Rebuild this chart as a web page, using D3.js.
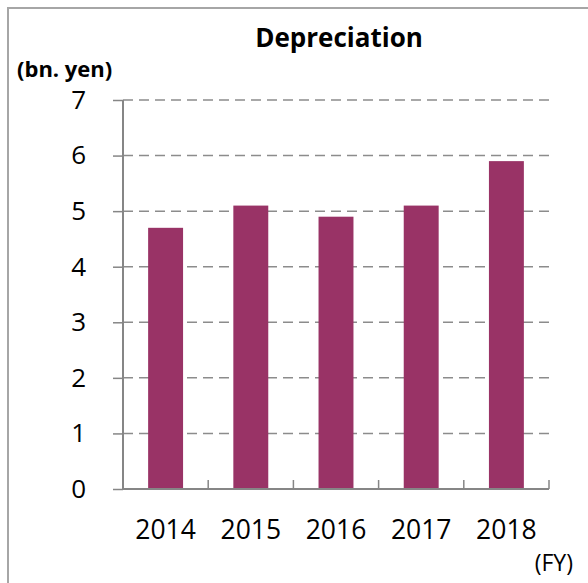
<!DOCTYPE html>
<html>
<head>
<meta charset="utf-8">
<script src="https://cdn.jsdelivr.net/npm/d3@7"></script>
<style>
  html, body { margin: 0; padding: 0; background: #fff; }
  svg { display: block; }
  text { font-family: "Open Sans", "Noto Sans", sans-serif; fill: #000; }
</style>
</head>
<body>
<svg id="chart" width="588" height="583"></svg>
<script>
const years = ["2014", "2015", "2016", "2017", "2018"];
const depreciation = [4.7, 5.1, 4.9, 5.1, 5.9];
const yTicks = [0, 1, 2, 3, 4, 5, 6, 7];
const titleText = "Depreciation";
const unitText = "(bn. yen)";
const fyText = "(FY)";

const svg = d3.select("#chart");
const plot = { left: 123, right: 549, top: 100, bottom: 489 };

// outer frame (extends past the viewport on right and bottom)
svg.append("rect")
  .attr("x", 8).attr("y", 8)
  .attr("width", 600).attr("height", 600)
  .attr("fill", "none")
  .attr("stroke", "#a6a6a6")
  .attr("stroke-width", 2);

const x = d3.scaleBand()
  .domain(years)
  .range([plot.left, plot.right])
  .paddingInner(0.59)
  .paddingOuter(0.295);

const y = d3.scaleLinear()
  .domain([0, 7])
  .range([plot.bottom, plot.top]);

// gridlines
svg.append("g")
  .selectAll("line")
  .data(yTicks.filter(d => d > 0))
  .join("line")
  .attr("x1", plot.left).attr("x2", plot.right)
  .attr("y1", d => y(d)).attr("y2", d => y(d))
  .attr("stroke", "#8c8c8c")
  .attr("stroke-width", 1.5)
  .attr("stroke-dasharray", "10,6");

// bars
svg.append("g")
  .selectAll("rect")
  .data(years.map((yr, i) => ({ yr, v: depreciation[i] })))
  .join("rect")
  .attr("x", d => x(d.yr))
  .attr("width", x.bandwidth())
  .attr("y", d => y(d.v))
  .attr("height", d => y(0) - y(d.v))
  .attr("fill", "#993366");

// y axis
const yAxis = d3.axisLeft(y).tickValues(yTicks).tickSize(10).tickPadding(27)
  .tickFormat(d3.format("d"));
const gy = svg.append("g")
  .attr("transform", `translate(${plot.left},0)`)
  .call(yAxis);
gy.select(".domain").attr("stroke", "#868686").attr("stroke-width", 2)
  .attr("d", `M0,${plot.top}V${plot.bottom}`);
gy.selectAll(".tick line").attr("stroke", "#868686").attr("stroke-width", 1.5);
gy.selectAll(".tick text")
  .attr("font-family", "Open Sans, sans-serif")
  .attr("font-size", 26)
  .attr("fill", "#000");

// x axis
const gx = svg.append("g")
  .attr("transform", `translate(0,${plot.bottom})`);
gx.append("line")
  .attr("x1", plot.left).attr("x2", plot.right)
  .attr("y1", 0).attr("y2", 0)
  .attr("stroke", "#868686").attr("stroke-width", 2);
const boundaries = years.map(d => x(d) - x.step() * x.paddingInner() / 2 + x.step());
gx.selectAll("line.cat")
  .data(boundaries)
  .join("line")
  .attr("class", "cat")
  .attr("x1", d => d).attr("x2", d => d)
  .attr("y1", 0).attr("y2", -9)
  .attr("stroke", "#868686").attr("stroke-width", 1.5);
gx.selectAll("text.lab")
  .data(years)
  .join("text")
  .attr("class", "lab")
  .attr("x", d => x(d) + x.bandwidth() / 2)
  .attr("y", 50)
  .attr("text-anchor", "middle")
  .attr("font-size", 26.5)
  .text(d => d);

// title
svg.append("text")
  .attr("x", 339).attr("y", 47)
  .attr("text-anchor", "middle")
  .attr("font-weight", "bold")
  .attr("font-size", 26)
  .text(titleText);

svg.append("text")
  .attr("x", 17).attr("y", 77)
  .attr("font-weight", "bold")
  .attr("font-size", 22)
  .text(unitText);

svg.append("text")
  .attr("x", 573).attr("y", 571)
  .attr("text-anchor", "end")
  .attr("font-size", 23)
  .text(fyText);
</script>
</body>
</html>
